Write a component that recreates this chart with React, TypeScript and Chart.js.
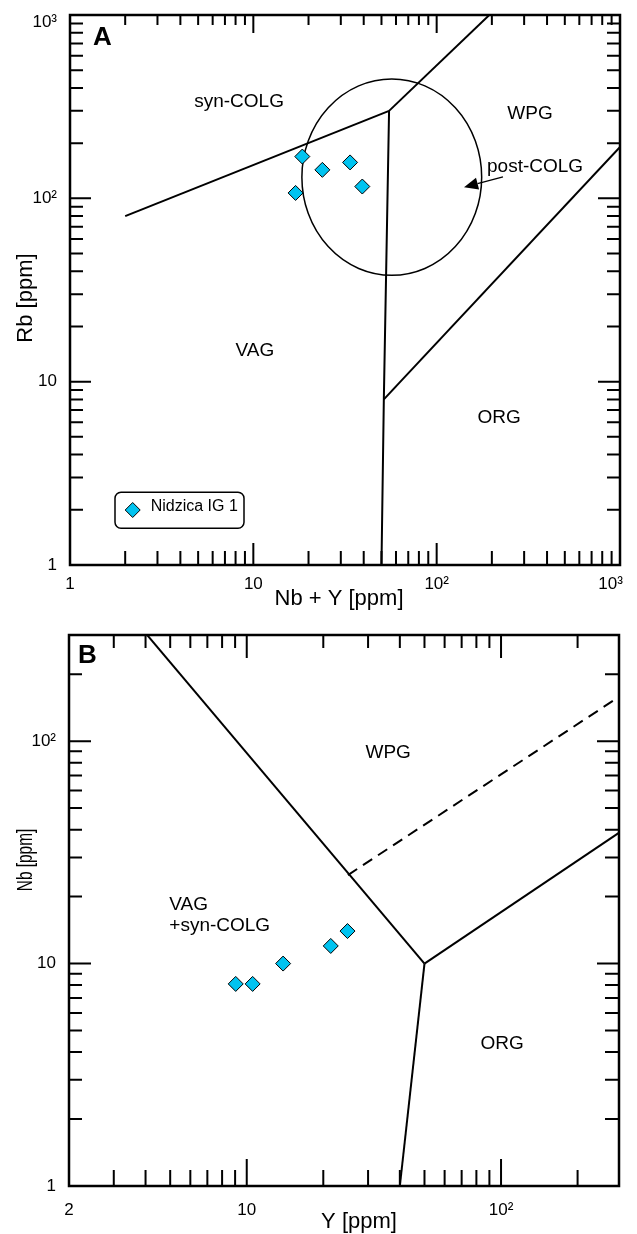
import React, { useEffect, useRef } from 'react';
import { Chart, registerables } from 'chart.js';

Chart.register(...registerables);

const FONT = '"Liberation Sans", Arial, Helvetica, sans-serif';
const MARKER = '#00C3F0';

// ---------- Panel A: Rb vs Nb+Y ----------
const A_X_TICKS = [1, 10, 100, 1000];
const A_X_LABELS = ['1', '10', '10²', '10³'];
const A_Y_TICKS = [1, 10, 100, 1000];
const A_Y_LABELS = ['1', '10', '10²', '10³'];
const A_NBY = [18.5, 17.0, 23.8, 33.7, 39.3];
const A_RB = [169, 107, 143, 157, 116];
const A_SYN_VAG = [{ x: 2, y: 80 }, { x: 55, y: 300 }];
const A_SYN_WPG = [{ x: 55, y: 300 }, { x: 400, y: 2000 }];
const A_VAG_ORG = [{ x: 55, y: 300 }, { x: 51.5, y: 8 }, { x: 50, y: 1 }];
const A_WPG_ORG = [{ x: 51.5, y: 8 }, { x: 2000, y: 400 }];
const A_POST_COLG = { xMin: 18.4, xMax: 176, yMin: 38, yMax: 448 };
const A_ARROW = { from: { x: 230, y: 131 }, to: { x: 141, y: 115 } };
const A_REGIONS = [
  { text: 'syn-COLG', x: 8.36, y: 344, align: 'center' },
  { text: 'WPG', x: 323, y: 294, align: 'center' },
  { text: 'post-COLG', x: 344, y: 151, align: 'center' },
  { text: 'VAG', x: 10.2, y: 15.0, align: 'center' },
  { text: 'ORG', x: 219, y: 6.5, align: 'center' },
];

// ---------- Panel B: Nb vs Y ----------
const B_X_TICKS = [2, 10, 100];
const B_X_LABELS = ['2', '10', '10²'];
const B_Y_TICKS = [1, 10, 100];
const B_Y_LABELS = ['1', '10', '10²'];
const B_Y = [9.05, 10.55, 13.9, 21.4, 24.9];
const B_NB = [8.1, 8.1, 10.0, 12.0, 14.0];
const B_VAG_WPG = [{ x: 1, y: 2000 }, { x: 50, y: 10 }];
const B_VAG_ORG = [{ x: 50, y: 10 }, { x: 40, y: 1 }];
const B_WPG_ORG = [{ x: 50, y: 10 }, { x: 1000, y: 100 }];
const B_ORG_DASHED = [{ x: 25, y: 25 }, { x: 1000, y: 400 }];
const B_REGIONS = [
  { text: 'WPG', x: 36.0, y: 89.7, align: 'center' },
  { text: 'ORG', x: 101, y: 4.41, align: 'center' },
  { text: 'VAG', x: 4.96, y: 18.7, align: 'left' },
  { text: '+syn-COLG', x: 4.96, y: 15.1, align: 'left' },
];

const SERIES_NAME = 'Nidzica IG 1';

const PANEL_A = {
  letter: 'A', letterDx: 23, letterDy: 30,
  xMin: 1, xMax: 1000, yMin: 1, yMax: 1000,
  xTicks: A_X_TICKS, xLabels: A_X_LABELS, yTicks: A_Y_TICKS, yLabels: A_Y_LABELS,
  lastXPad: '    ', yTopShift: 7,
  points: A_NBY.map((x, i) => ({ x, y: A_RB[i] })),
  lines: [
    { pts: A_SYN_VAG }, { pts: A_SYN_WPG }, { pts: A_VAG_ORG }, { pts: A_WPG_ORG },
  ],
  ellipse: A_POST_COLG, arrow: A_ARROW, regions: A_REGIONS,
  padTop: 15, padRight: 17, yAxisW: 70, xAxisH: 52, xLabelPad: 9, yLabelPad: 13,
  tick: { left: [13, 21], bottom: [14, 22], top: [10, 18], right: [13, 22] },
  xTitle: { text: 'Nb + Y [ppm]', x: 339, y: 605 },
  yTitle: { text: 'Rb [ppm]', x: 31.7, y: 298, sx: 1 },
  legend: { dx: 45, dy: 477.3, w: 129, h: 36 },
};

const PANEL_B = {
  letter: 'B', letterDx: 9, letterDy: 28,
  xMin: 2, xMax: 291, yMin: 1, yMax: 300,
  xTicks: B_X_TICKS, xLabels: B_X_LABELS, yTicks: B_Y_TICKS, yLabels: B_Y_LABELS,
  lastXPad: '', yTopShift: 0,
  points: B_Y.map((x, i) => ({ x, y: B_NB[i] })),
  lines: [
    { pts: B_VAG_WPG }, { pts: B_VAG_ORG }, { pts: B_WPG_ORG }, { pts: B_ORG_DASHED, dash: [11, 7] },
  ],
  ellipse: null, arrow: null, regions: B_REGIONS,
  padTop: 18, padRight: 18, yAxisW: 69, xAxisH: 48, xLabelPad: 14, yLabelPad: 13,
  tick: { left: [13, 22], bottom: [16, 27], top: [13, 23], right: [14, 22] },
  xTitle: { text: 'Y [ppm]', x: 359, y: 611 },
  yTitle: { text: 'Nb [ppm]', x: 31.7, y: 243, sx: 0.7 },
  legend: null,
};

function logTicks(min: number, max: number) {
  const out: { v: number; major: boolean }[] = [];
  for (let d = Math.floor(Math.log10(min)); d <= Math.ceil(Math.log10(max)); d++) {
    for (let m = 1; m <= 9; m++) {
      const v = m * Math.pow(10, d);
      if (v >= min * 0.9999 && v <= max * 1.0001) out.push({ v, major: m === 1 });
    }
  }
  return out;
}

function makePlugin(p: any) {
  return {
    id: 'panelDecor',
    beforeDatasetsDraw(chart: any) {
      const { ctx, scales } = chart;
      const xs = scales.x, ys = scales.y;
      if (p.ellipse) {
        const e = p.ellipse;
        const x1 = xs.getPixelForValue(e.xMin), x2 = xs.getPixelForValue(e.xMax);
        const y1 = ys.getPixelForValue(e.yMax), y2 = ys.getPixelForValue(e.yMin);
        ctx.save();
        ctx.beginPath();
        ctx.ellipse((x1 + x2) / 2, (y1 + y2) / 2, (x2 - x1) / 2, (y2 - y1) / 2, 0, 0, Math.PI * 2);
        ctx.lineWidth = 1.5;
        ctx.strokeStyle = '#000';
        ctx.stroke();
        ctx.restore();
      }
    },
    afterDatasetsDraw(chart: any) {
      const { ctx, chartArea: ca, scales } = chart;
      const xs = scales.x, ys = scales.y;
      ctx.save();
      ctx.strokeStyle = '#000';
      ctx.fillStyle = '#000';
      // ticks
      ctx.lineWidth = 2;
      ctx.lineCap = 'butt';
      ctx.beginPath();
      for (const t of logTicks(p.xMin, p.xMax)) {
        const px = xs.getPixelForValue(t.v);
        const lb = p.tick.bottom[t.major ? 1 : 0];
        const lt = p.tick.top[t.major ? 1 : 0];
        ctx.moveTo(px, ca.bottom); ctx.lineTo(px, ca.bottom - lb);
        ctx.moveTo(px, ca.top); ctx.lineTo(px, ca.top + lt);
      }
      for (const t of logTicks(p.yMin, p.yMax)) {
        const py = ys.getPixelForValue(t.v);
        const ll = p.tick.left[t.major ? 1 : 0];
        const lr = p.tick.right[t.major ? 1 : 0];
        ctx.moveTo(ca.left, py); ctx.lineTo(ca.left + ll, py);
        ctx.moveTo(ca.right, py); ctx.lineTo(ca.right - lr, py);
      }
      ctx.stroke();
      // frame
      ctx.lineWidth = 2.5;
      ctx.strokeRect(ca.left, ca.top, ca.right - ca.left, ca.bottom - ca.top);

      // region labels
      const size = 19;
      ctx.font = `${size}px ${FONT}`;
      ctx.textBaseline = 'alphabetic';
      for (const r of p.regions) {
        ctx.textAlign = r.align;
        ctx.fillText(r.text, xs.getPixelForValue(r.x), ys.getPixelForValue(r.y) + size * 0.358);
      }

      // arrow
      if (p.arrow) {
        const fx = xs.getPixelForValue(p.arrow.from.x), fy = ys.getPixelForValue(p.arrow.from.y);
        const tx = xs.getPixelForValue(p.arrow.to.x), ty = ys.getPixelForValue(p.arrow.to.y);
        const ang = Math.atan2(ty - fy, tx - fx);
        const hl = 14, hw = 6;
        const bx = tx - hl * Math.cos(ang), by = ty - hl * Math.sin(ang);
        ctx.lineWidth = 1.3;
        ctx.beginPath();
        ctx.moveTo(fx, fy); ctx.lineTo(bx, by);
        ctx.stroke();
        ctx.beginPath();
        ctx.moveTo(tx, ty);
        ctx.lineTo(bx + hw * Math.sin(ang), by - hw * Math.cos(ang));
        ctx.lineTo(bx - hw * Math.sin(ang), by + hw * Math.cos(ang));
        ctx.closePath();
        ctx.fill();
      }

      // panel letter
      ctx.font = `bold 26px ${FONT}`;
      ctx.textAlign = 'left';
      ctx.fillText(p.letter, ca.left + p.letterDx, ca.top + p.letterDy);

      // axis titles
      ctx.font = `22px ${FONT}`;
      ctx.textAlign = 'center';
      ctx.fillText(p.xTitle.text, p.xTitle.x, p.xTitle.y);
      ctx.save();
      ctx.translate(p.yTitle.x, p.yTitle.y);
      ctx.rotate(-Math.PI / 2);
      ctx.scale(p.yTitle.sx, 1);
      ctx.fillText(p.yTitle.text, 0, 0);
      ctx.restore();

      // legend
      if (p.legend) {
        const L = p.legend;
        const lx = ca.left + L.dx, ly = ca.top + L.dy;
        ctx.lineWidth = 1.5;
        ctx.beginPath();
        ctx.roundRect(lx, ly, L.w, L.h, 6);
        ctx.stroke();
        const cx = lx + 17.7, cy = ly + 17.7, r = 7.5;
        ctx.beginPath();
        ctx.moveTo(cx, cy - r); ctx.lineTo(cx + r, cy); ctx.lineTo(cx, cy + r); ctx.lineTo(cx - r, cy);
        ctx.closePath();
        ctx.fillStyle = MARKER;
        ctx.fill();
        ctx.lineWidth = 1;
        ctx.stroke();
        ctx.fillStyle = '#000';
        ctx.font = `16px ${FONT}`;
        ctx.textAlign = 'left';
        ctx.fillText(SERIES_NAME, lx + 35.7, ly + 18.4);
      }
      ctx.restore();
    },
  };
}

function zeroPadding(s: any) {
  s.paddingLeft = 0;
  s.paddingRight = 0;
  s.paddingTop = 0;
  s.paddingBottom = 0;
}

function buildConfig(p: any) {
  const lastX = p.xTicks.length - 1;
  const lastY = p.yTicks.length - 1;
  return {
    type: 'scatter',
    data: {
      datasets: [
        {
          label: SERIES_NAME,
          data: p.points,
          pointStyle: 'rectRot',
          pointRadius: 7.5,
          backgroundColor: MARKER,
          borderColor: '#000',
          borderWidth: 1,
          showLine: false,
        },
        ...p.lines.map((l: any) => ({
          data: l.pts,
          showLine: true,
          pointRadius: 0,
          borderColor: '#000',
          borderWidth: 2,
          borderDash: l.dash || [],
          fill: false,
          tension: 0,
        })),
      ],
    },
    options: {
      responsive: false,
      animation: false,
      devicePixelRatio: 1,
      events: [],
      layout: { padding: { left: 0, right: p.padRight, top: p.padTop, bottom: 0 }, autoPadding: false },
      plugins: { legend: { display: false }, tooltip: { enabled: false } },
      scales: {
        x: {
          type: 'logarithmic',
          position: 'bottom',
          min: p.xMin,
          max: p.xMax,
          afterBuildTicks: (s: any) => { s.ticks = p.xTicks.map((v: number) => ({ value: v })); },
          afterFit: (s: any) => { s.height = p.xAxisH; zeroPadding(s); },
          grid: { display: false, drawTicks: false },
          border: { display: false },
          ticks: {
            autoSkip: false, maxRotation: 0, minRotation: 0,
            padding: p.xLabelPad, color: '#000',
            font: { family: FONT, size: 17 },
            callback: (_v: any, i: number) => p.xLabels[i] + (i === lastX ? p.lastXPad : ''),
          },
        },
        y: {
          type: 'logarithmic',
          position: 'left',
          min: p.yMin,
          max: p.yMax,
          afterBuildTicks: (s: any) => { s.ticks = p.yTicks.map((v: number) => ({ value: v })); },
          afterFit: (s: any) => { s.width = p.yAxisW; zeroPadding(s); },
          grid: { display: false, drawTicks: false },
          border: { display: false },
          ticks: {
            autoSkip: false, padding: p.yLabelPad, color: '#000',
            font: (c: any) => ({
              family: FONT, size: 17,
              lineHeight: c.index === lastY && p.yTopShift ? (2 * p.yTopShift) / 17 : 1.2,
            }),
            callback: (_v: any, i: number) =>
              i === lastY && p.yTopShift ? ['', p.yLabels[i]] : p.yLabels[i],
          },
        },
      },
    },
    plugins: [makePlugin(p)],
  };
}

function Panel({ spec, top }: { spec: any; top: number }) {
  const ref = useRef<HTMLCanvasElement | null>(null);
  useEffect(() => {
    if (!ref.current) return;
    const chart = new Chart(ref.current, buildConfig(spec) as any);
    return () => chart.destroy();
  }, [spec]);
  return (
    <canvas
      ref={ref}
      width={637}
      height={617}
      style={{ position: 'absolute', left: 0, top, width: 637, height: 617 }}
    />
  );
}

export default function App() {
  return (
    <div style={{ position: 'absolute', left: 0, top: 0, width: 637, height: 1234, background: '#fff' }}>
      <Panel spec={PANEL_A} top={0} />
      <Panel spec={PANEL_B} top={617} />
    </div>
  );
}
